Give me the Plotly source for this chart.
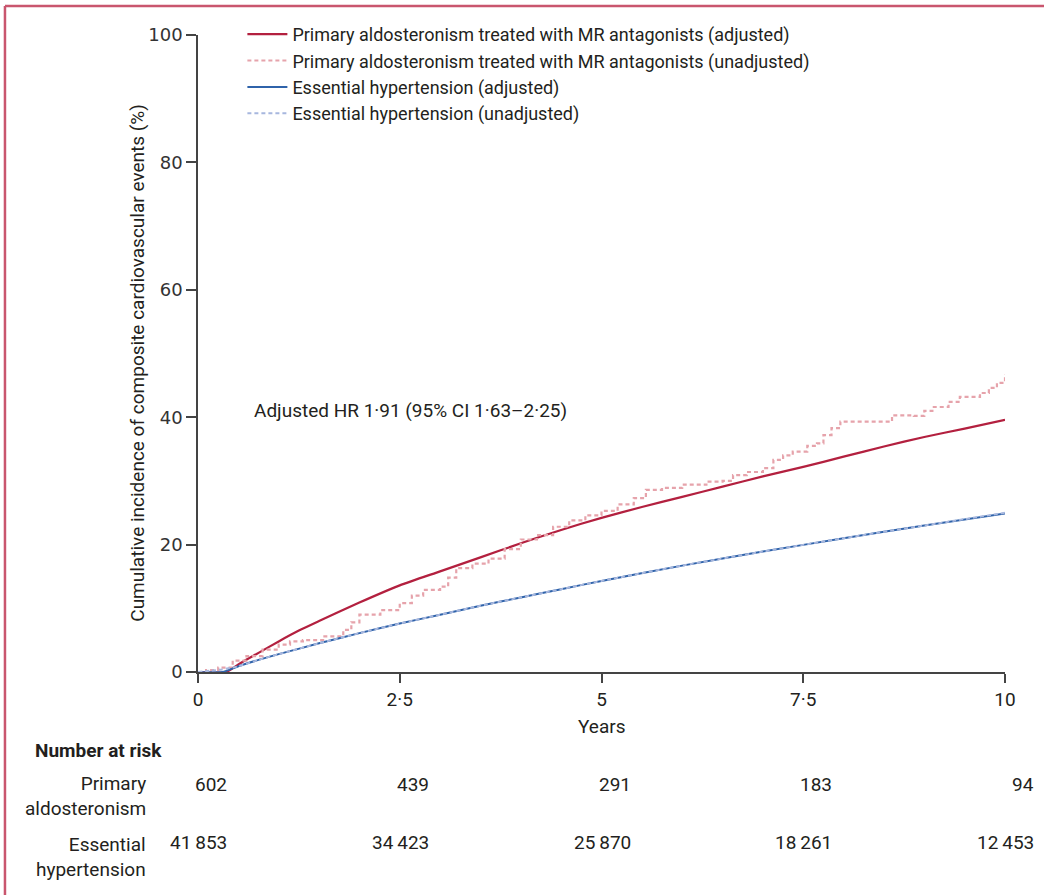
import plotly.graph_objects as go

# ---- data ----
pa_adj_x = [0, 0.35, 0.5, 0.75, 1, 1.25, 1.5, 2, 2.5, 3, 3.5, 4, 4.5, 5, 5.5, 6, 6.5, 7, 7.5, 8, 8.5, 9, 9.5, 10]
pa_adj_y = [0, 0, 1.2, 3.0, 4.8, 6.5, 8.0, 10.9, 13.6, 15.8, 18.0, 20.2, 22.3, 24.2, 25.9, 27.5, 29.1, 30.7, 32.2, 33.8, 35.4, 36.9, 38.2, 39.6]

pa_unadj_x = [0, 0.1, 0.25, 0.43, 0.6, 0.8, 1.0, 1.14, 1.3, 1.55, 1.8, 1.9, 2.0, 2.26, 2.5, 2.65, 2.79, 3.0, 3.1, 3.2,
              3.4, 3.6, 3.8, 4.0, 4.2, 4.4, 4.6, 4.8, 5.0, 5.2, 5.4, 5.55, 5.75, 6.0, 6.3, 6.5, 6.63, 6.8, 7.0, 7.13,
              7.25, 7.37, 7.55, 7.67, 7.75, 7.85, 7.96, 8.2, 8.5, 8.6, 8.87, 9.0, 9.1, 9.3, 9.44, 9.69, 9.8, 9.9, 10.0]
pa_unadj_y = [0, 0.3, 0.7, 1.8, 2.5, 3.5, 4.3, 4.8, 5.0, 5.6, 6.6, 7.8, 9.0, 9.7, 10.8, 12.0, 12.9, 13.4, 14.8, 16.3,
              17.0, 17.8, 19.3, 20.8, 21.5, 22.8, 23.8, 24.6, 25.3, 26.3, 27.3, 28.6, 28.9, 29.4, 29.9, 30.0, 30.9, 31.4, 32.0, 33.3,
              34.0, 34.6, 35.5, 35.9, 37.2, 38.3, 39.3, 39.3, 39.3, 40.3, 40.2, 41.0, 41.6, 42.4, 43.2, 43.8, 44.6, 45.4, 46.8]

eh_adj_x = [0, 0.3, 0.5, 0.75, 1, 1.5, 2, 2.5, 3, 3.5, 4, 4.5, 5, 6, 7, 8, 9, 10]
eh_adj_y = [0, 0, 0.9, 1.9, 2.8, 4.5, 6.1, 7.6, 9.0, 10.4, 11.7, 13.0, 14.3, 16.7, 18.9, 21.0, 23.0, 24.9]

eh_unadj_x = [0, 0.15, 0.3, 0.5, 0.75, 1, 1.5, 2, 2.5, 3, 3.5, 4, 4.5, 5, 6, 7, 8, 9, 10]
eh_unadj_y = [0, 0.2, 0.4, 0.9, 1.9, 2.8, 4.5, 6.1, 7.6, 9.0, 10.4, 11.7, 13.0, 14.3, 16.7, 18.9, 21.0, 23.0, 25.0]

x_tickvals = [0, 2.5, 5, 7.5, 10]
x_ticktext = ["0", "2·5", "5", "7·5", "10"]
y_tickvals = [0, 20, 40, 60, 80, 100]

risk_times = [0, 2.5, 5, 7.5, 10]
risk_pa = ["602", "439", "291", "183", "94"]
risk_eh = ["41 853", "34 423", "25 870", "18 261", "12 453"]

RED = "#b3203f"
RED_L = "#e6a3ab"
BLUE = "#2f63aa"
BLUE_L = "#a7b7de"
FONT = "Roboto, Arial"
TXT = "#231f20"
FS = 19

fig = go.Figure()
fig.add_trace(go.Scatter(x=pa_adj_x, y=pa_adj_y, mode="lines", line=dict(color=RED, width=2.2, shape="spline", smoothing=0.6),
                         name="Primary aldosteronism treated with MR antagonists (adjusted)"))
fig.add_trace(go.Scatter(x=pa_unadj_x, y=pa_unadj_y, mode="lines", line=dict(color=RED_L, width=2.2, dash="4px,3px", shape="hv"),
                         name="Primary aldosteronism treated with MR antagonists (unadjusted)"))
fig.add_trace(go.Scatter(x=eh_adj_x, y=eh_adj_y, mode="lines", line=dict(color=BLUE, width=2, shape="spline", smoothing=0.6),
                         name="Essential hypertension (adjusted)"))
fig.add_trace(go.Scatter(x=eh_unadj_x, y=eh_unadj_y, mode="lines", line=dict(color=BLUE_L, width=2, dash="4px,3px", shape="spline", smoothing=0.6),
                         name="Essential hypertension (unadjusted)"))

ann = [
    dict(x=0.067, y=41, xref="x domain", yref="y", xanchor="left", yanchor="middle",
         text="Adjusted HR 1·91 (95% CI 1·63–2·25)", showarrow=False, font=dict(size=FS, color=TXT, family=FONT)),
    dict(x=-0.076, y=0.485, xref="paper", yref="paper", textangle=-90, xanchor="center", yanchor="middle",
         text="Cumulative incidence of composite cardiovascular events (%)", showarrow=False,
         font=dict(size=FS, color=TXT, family=FONT)),
    dict(x=0.5, y=-0.085, xref="paper", yref="paper", xanchor="center", yanchor="middle",
         text="Years", showarrow=False, font=dict(size=FS, color=TXT, family=FONT)),
    dict(x=-0.204, y=-0.123, xref="paper", yref="paper", xanchor="left", yanchor="middle",
         text="<b>Number at risk</b>", showarrow=False, font=dict(size=FS, color=TXT, family=FONT)),
    dict(x=-0.062, y=-0.195, xref="paper", yref="paper", xanchor="right", yanchor="middle", align="right",
         text="Primary<br>aldosteronism", showarrow=False, font=dict(size=FS, color=TXT, family=FONT)),
    dict(x=-0.062, y=-0.290, xref="paper", yref="paper", xanchor="right", yanchor="middle", align="right",
         text="Essential<br>hypertension", showarrow=False, font=dict(size=FS, color=TXT, family=FONT)),
]
for t, a, b in zip(risk_times, risk_pa, risk_eh):
    ann.append(dict(x=t, y=-0.177, xref="x", yref="paper", xanchor="right", yanchor="middle", xshift=31,
                    text=a, showarrow=False, font=dict(size=FS, color=TXT, family=FONT)))
    ann.append(dict(x=t, y=-0.268, xref="x", yref="paper", xanchor="right", yanchor="middle", xshift=31,
                    text=b.replace(" ", "\u2009"), showarrow=False, font=dict(size=FS, color=TXT, family=FONT)))

shapes = [
    dict(type="line", xref="paper", yref="paper", x0=-0.2392, x1=1.06, y0=1.0455, y1=1.0455,
         line=dict(color="#c9566e", width=2.5)),
    dict(type="line", xref="paper", yref="paper", x0=-0.2392, x1=-0.2392, y0=1.0455, y1=-0.36,
         line=dict(color="#c9566e", width=2.5)),
]

fig.update_layout(
    width=1044, height=895,
    margin=dict(l=198, r=39, t=35, b=223),
    plot_bgcolor="white", paper_bgcolor="white",
    showlegend=True,
    legend=dict(x=0.055, y=1.03, xanchor="left", yanchor="top", bgcolor="rgba(0,0,0,0)",
                font=dict(size=18, color=TXT, family=FONT), tracegroupgap=0, itemwidth=40),
    annotations=ann,
    shapes=shapes,
    xaxis=dict(range=[0, 10], tickvals=x_tickvals, ticktext=x_ticktext, showgrid=False, zeroline=False,
               showline=True, linecolor="#444", linewidth=1.5, ticks="outside", ticklen=9, tickcolor="#444",
               tickwidth=1.5, tickfont=dict(size=FS, color=TXT, family=FONT)),
    yaxis=dict(range=[0, 100], tickvals=y_tickvals, showgrid=False, zeroline=False,
               showline=True, linecolor="#444", linewidth=1.5, ticks="outside", ticklen=10, tickcolor="#444",
               tickwidth=1.5, tickfont=dict(size=18, color="#333", family="DejaVu Sans")),
)

fig.write_html("out.html", config={"displayModeBar": False},
               post_script="document.body.style.margin='0';document.body.style.overflow='hidden';")
